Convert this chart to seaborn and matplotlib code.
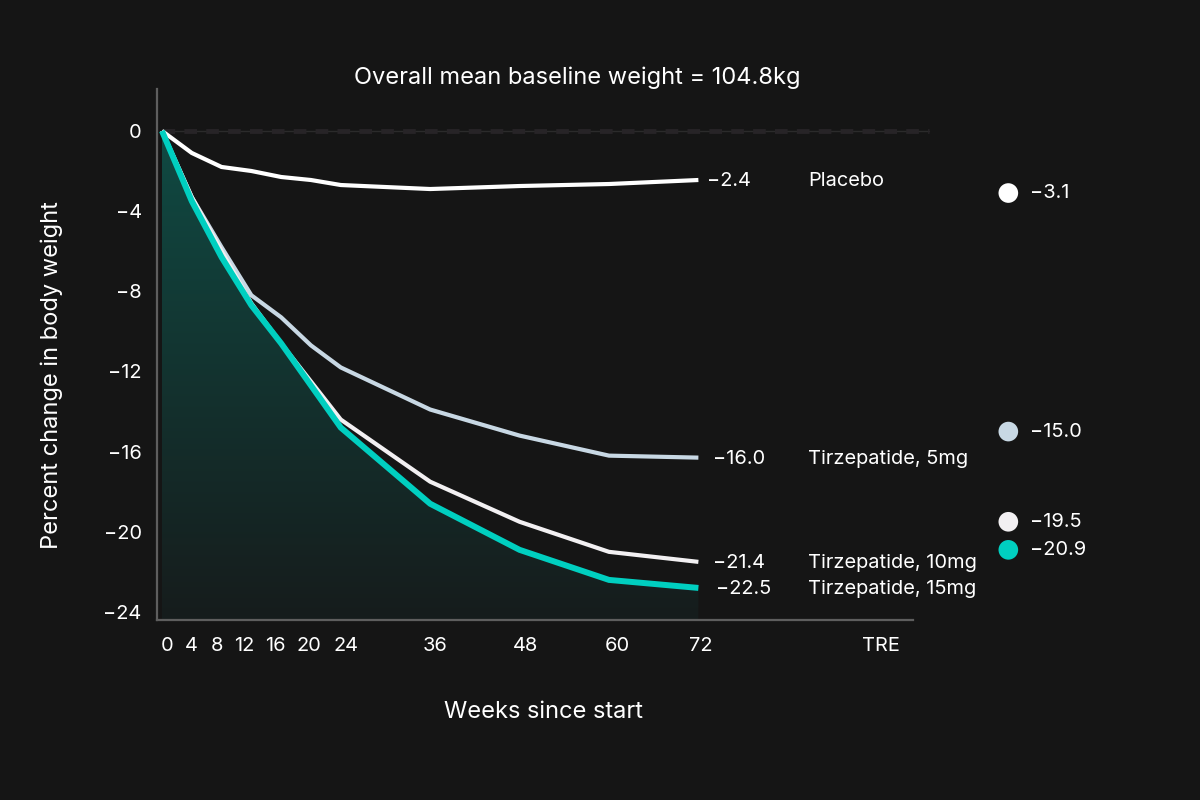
import numpy as np
import pandas as pd
import matplotlib
matplotlib.use("Agg")
import matplotlib.pyplot as plt
from matplotlib.patches import PathPatch
from matplotlib.transforms import ScaledTranslation
import seaborn as sns

# data
weeks = [0, 4, 8, 12, 16, 20, 24, 36, 48, 60, 72]
placebo = [0, -1.1, -1.8, -2.0, -2.3, -2.45, -2.7, -2.9, -2.75, -2.65, -2.45]
tirz_5 = [0, -3.3, -5.8, -8.2, -9.3, -10.7, -11.8, -13.9, -15.2, -16.2, -16.3]
tirz_10 = [0, -3.3, -6.0, -8.6, -10.6, -12.5, -14.4, -17.5, -19.5, -21.0, -21.5]
tirz_15 = [0, -3.5, -6.3, -8.7, -10.6, -12.7, -14.8, -18.6, -20.9, -22.4, -22.8]

groups = ["Placebo", "Tirzepatide, 5mg", "Tirzepatide, 10mg", "Tirzepatide, 15mg"]
end_values = ["\u22122.4", "\u221216.0", "\u221221.4", "\u221222.5"]
tre_values = [-3.1, -15.0, -19.5, -20.9]
tre_labels = ["\u22123.1", "\u221215.0", "\u221219.5", "\u221220.9"]

xtick_weeks = [0, 4, 8, 12, 16, 20, 24, 36, 48, 60, 72]
yticks = [0, -4, -8, -12, -16, -20, -24]

series = [placebo, tirz_5, tirz_10, tirz_15]
df = pd.DataFrame({
    "week": weeks * 4,
    "change": sum(series, []),
    "group": [g for g in groups for _ in weeks],
})

colors = {
    "Placebo": "#ffffff",
    "Tirzepatide, 5mg": "#c8d8e4",
    "Tirzepatide, 10mg": "#f2f0f2",
    "Tirzepatide, 15mg": "#00cfc0",
}
widths = {"Placebo": 3.0, "Tirzepatide, 5mg": 3.0, "Tirzepatide, 10mg": 3.0, "Tirzepatide, 15mg": 4.3}

bg = "#151515"
sns.set_theme(style="dark")
plt.rcParams["font.family"] = ["Inter", "DejaVu Sans"]
plt.rcParams["axes.unicode_minus"] = True

fig = plt.figure(figsize=(12, 8), dpi=100, facecolor=bg)
ax = fig.add_axes([0.1308, 0.225, 0.630, 0.664])
ax.set_facecolor(bg)
ax.set_xlim(-0.67, 100.8)
ax.set_ylim(-24.4, 2.1)

# gradient fill under the 15mg curve
ybot = -24.4
poly = ax.fill_between(weeks, tirz_15, ybot, color="none", lw=0)
grad = np.linspace(0, 1, 256).reshape(-1, 1)
cmap = matplotlib.colors.LinearSegmentedColormap.from_list("g", ["#104a43", "#161c1c"])
img = ax.imshow(grad, cmap=cmap, aspect="auto", extent=[0, 72, ybot, 0], origin="upper", zorder=1)
path = poly.get_paths()[0]
img.set_clip_path(PathPatch(path, transform=ax.transData, facecolor="none", edgecolor="none"))

# dashed zero line
ax.plot([0, 103], [0, 0], color="#2b2b2b", lw=1, zorder=1.5, clip_on=False)
ax.plot([0, 103], [0, 0], color="#272427", lw=3.5, dashes=(2.6, 1.9), zorder=1.6, clip_on=False)

for g in groups:
    sns.lineplot(data=df[df["group"] == g], x="week", y="change", color=colors[g],
                 lw=widths[g], ax=ax, zorder=3, legend=False,
                 solid_joinstyle="miter", solid_capstyle="butt")

fs = 14.4
# end labels
label_x = [73.2, 73.9, 73.9, 74.3]
for g, s, v, lx in zip(groups, series, end_values, label_x):
    ax.text(lx, s[-1] - 0.05, v, color="white", fontsize=fs, va="center", ha="left")
    ax.text(86.7, s[-1] - 0.05, g, color="white", fontsize=fs, va="center", ha="left")

# TRE dots
tre_x = 113.6
ax.scatter([tre_x] * 4, tre_values, s=200, c=[colors[g] for g in groups],
           edgecolors="none", clip_on=False, zorder=4)
for v, t in zip(tre_values, tre_labels):
    ax.text(tre_x + 2.9, v, t, color="white", fontsize=fs, va="center", ha="left")

ax.set_xticks(xtick_weeks + [96.5])
ax.set_xticklabels([str(w) for w in xtick_weeks] + ["TRE"])
ax.set_yticks(yticks)
ax.set_yticklabels(["0"] + ["\u2212" + str(-y) for y in yticks[1:]])
ax.tick_params(axis="both", length=0, colors="white", labelsize=fs)
ax.tick_params(axis="x", pad=12)
ax.tick_params(axis="y", pad=11)

# spread the crowded week labels a little, as in the original layout
shifts_px = [5, 0, -5, -7, -6, -2, 5, 5, 6, 8, 2, 0]
for lab, dx in zip(ax.get_xticklabels(), shifts_px):
    lab.set_transform(lab.get_transform() + ScaledTranslation(dx / 100, 0, fig.dpi_scale_trans))

for side in ["top", "right"]:
    ax.spines[side].set_visible(False)
for side in ["left", "bottom"]:
    ax.spines[side].set_visible(True)
    ax.spines[side].set_color("#5e5e5e")
    ax.spines[side].set_linewidth(1.6)
ax.grid(False)

ax.set_xlabel("")
ax.set_ylabel("")
fig.text(543 / 1200, 1 - 712 / 800, "Weeks since start", color="white", fontsize=17, ha="center", va="center")
fig.text(52 / 1200, 1 - 375 / 800, "Percent change in body weight", color="white", fontsize=17,
         ha="center", va="center", rotation=90)
fig.text(577 / 1200, 1 - 78 / 800, "Overall mean baseline weight = 104.8kg", color="white",
         fontsize=17, ha="center", va="center")

fig.savefig("out.png", dpi=100, facecolor=bg)
